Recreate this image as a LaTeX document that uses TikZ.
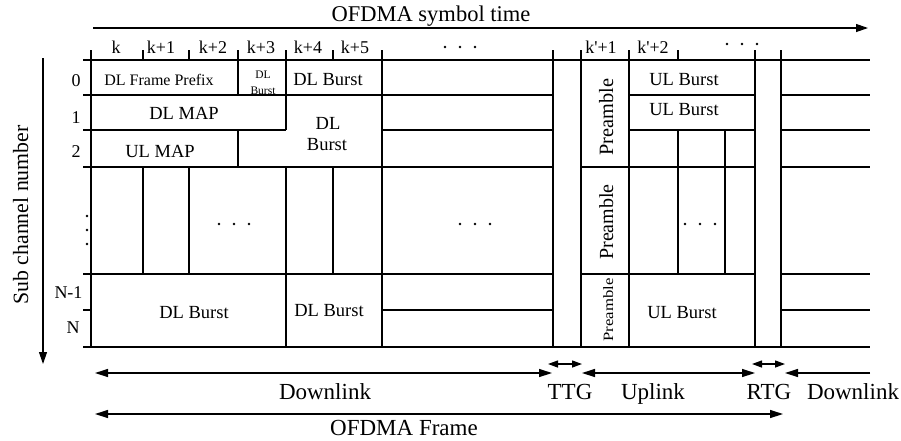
\documentclass[tikz,border=0pt]{standalone}
\usepackage{fontspec}
\setmainfont{Liberation Serif}
\newfontfamily\plainserif{Liberation Serif}[Ligatures=ResetAll]
\usepackage{graphicx}
\usetikzlibrary{arrows.meta}
\newcommand{\pr}{{\plainserif '}}
\begin{document}
\begin{tikzpicture}[x=1pt,y=-1pt,
  thinln/.style={line width=1.1pt},
  thickln/.style={line width=2.8pt},
  txt/.style={inner sep=0pt, anchor=base},
  hdr/.style={txt, font=\fontsize{18}{20}\selectfont},
  cell/.style={txt, font=\fontsize{18.5}{20}\selectfont},
  tiny/.style={txt, font=\fontsize{11.5}{12}\selectfont},
  big/.style={txt, font=\fontsize{23}{25}\selectfont},
  onehead/.style={line width=1.2pt, -{Triangle[length=12pt,width=8pt]}},
  twohead/.style={line width=1.3pt, {Triangle[length=13pt,width=8pt]}-{Triangle[length=13pt,width=8pt]}},
  gaphead/.style={line width=1.3pt, {Triangle[length=10pt,width=7pt]}-{Triangle[length=10pt,width=7pt]}},
  dot/.style={fill=black, draw=none}]
\useasboundingbox (0,0) rectangle (901,440);

% ---- axes ----
\coordinate (tA) at (93,28);  \coordinate (tB) at (868,28);
\draw[onehead] (tA) -- (tB);
\node[big, font=\fontsize{22.5}{24}\selectfont] (symtime) at (431,21) {OFDMA symbol time};

\coordinate (sA) at (43,58);  \coordinate (sB) at (43,364);
\draw[onehead] (sA) -- (sB);
\node[txt, rotate=90, font=\fontsize{21.8}{24}\selectfont] (subch) at (28,215) {Sub channel number};

% ---- symbol ticks ----
\foreach \x in {91,143,189,238,286,333,382,553,581,629,678,755,781}
  \draw[thinln] (\x,50) -- (\x,60);
% ---- sub-channel tick between N-1 and N ----
\draw[thinln] (83,310) -- (91,310);

% ---- column headers ----
\node[hdr] (k0) at (116,53) {k};
\node[hdr] (k1) at (161,53) {k+1};
\node[hdr] (k2) at (213,53) {k+2};
\node[hdr] (k3) at (261,53) {k+3};
\node[hdr] (k4) at (308,53) {k+4};
\node[hdr] (k5) at (355,53) {k+5};
\node[hdr] (kp1) at (601,53) {k\pr+1};
\node[hdr] (kp2) at (653,53) {k\pr+2};
\foreach \x in {445,460,475} \fill[dot] (\x,47) circle (1.4);
\foreach \x in {727,742,757} \fill[dot] (\x,44) circle (1.4);

% ---- row labels ----
\node[hdr] (r0) at (76,86) {0};
\node[hdr] (r1) at (76,123) {1};
\node[hdr] (r2) at (76,157) {2};
\node[hdr] (rN1) at (68.5,298) {N-1};
\node[hdr] (rN) at (73,333) {N};
\foreach \y in {216,230,244} \fill[dot] (87,\y) circle (1.4);

% ---- horizontal grid lines ----
\draw[thinln] (83,95) -- (553,95)   (629,95) -- (755,95)   (781,95) -- (870,95);
\draw[thinln] (83,130) -- (286,130) (382,130) -- (553,130) (629,130) -- (755,130) (781,130) -- (870,130);
\draw[thinln] (83,167) -- (553,167) (581,167) -- (755,167) (781,167) -- (870,167);
\draw[thinln] (83,274) -- (553,274) (581,274) -- (755,274) (781,274) -- (870,274);
\draw[thinln] (382,310) -- (553,310) (781,310) -- (870,310);

% ---- vertical grid lines ----
\draw[thinln] (143,167) -- (143,274)  (189,167) -- (189,274)  (333,167) -- (333,274);
\draw[thinln] (238,60) -- (238,95)    (238,130) -- (238,167);
\draw[thinln] (286,60) -- (286,130)   (286,167) -- (286,347);
\draw[thinln] (382,60) -- (382,347)   (629,60) -- (629,347);
\draw[thinln] (678,130) -- (678,274)  (725,130) -- (725,274);
\foreach \x in {91,553,581,755,781}
  \draw[thickln] (\x,60) -- (\x,347);

% ---- frame borders ----
\draw[thickln] (83,60) -- (870,60);
\draw[thickln] (83,347) -- (870,347);

% ---- downlink cells ----
\node[txt, font=\fontsize{16}{18}\selectfont] (fp) at (159,85) {DL Frame Prefix};
\node[tiny] (sb1) at (263,78) {DL};
\node[tiny] (sb2) at (263,94) {Burst};
\node[cell] (db0) at (328,85) {DL Burst};
\node[cell] (dlmap) at (184,119) {DL MAP};
\node[cell] (db1a) at (328,129) {DL};
\node[cell] (db1b) at (327,150) {Burst};
\node[cell] (ulmap) at (160,157) {UL MAP};
\node[cell] (db2) at (194,318) {DL Burst};
\node[cell] (db3) at (329,316) {DL Burst};
\foreach \x in {219,234,249} \fill[dot] (\x,224) circle (1.4);
\foreach \x in {460,475,490} \fill[dot] (\x,224) circle (1.4);

% ---- uplink cells ----
\node[txt, rotate=90, font=\fontsize{20.3}{22}\selectfont] (pre1) at (613,117) {Preamble};
\node[txt, rotate=90, font=\fontsize{20}{22}\selectfont] (pre2) at (613,222) {Preamble};
\node[txt, rotate=90, font=\fontsize{19}{22}\selectfont] (pre3) at (613,310) {\scalebox{0.88}[0.75]{Preamble}};
\node[cell] (ub0) at (684,85) {UL Burst};
\node[cell] (ub1) at (684,115) {UL Burst};
\node[cell] (ub2) at (682,318) {UL Burst};
\foreach \x in {685,700,715} \fill[dot] (\x,224) circle (1.4);

% ---- frame spans ----
\coordinate (dlA) at (95,373);  \coordinate (dlB) at (552,373);
\coordinate (ttA) at (548,364); \coordinate (ttB) at (582,364);
\coordinate (ulA) at (582,373); \coordinate (ulB) at (755,373);
\coordinate (rtA) at (752,364); \coordinate (rtB) at (785,364);
\coordinate (d2A) at (870,373); \coordinate (d2B) at (785,373);
\coordinate (frA) at (95,414);  \coordinate (frB) at (783,414);
\draw[twohead] (dlA) -- (dlB);
\draw[gaphead] (ttA) -- (ttB);
\draw[twohead] (ulA) -- (ulB);
\draw[gaphead] (rtA) -- (rtB);
\draw[line width=1.3pt, -{Triangle[length=13pt,width=8pt]}] (d2A) -- (d2B);
\draw[twohead] (frA) -- (frB);

\node[big] (ldl) at (325,399) {Downlink};
\node[big] (lttg) at (570,399) {TTG};
\node[big] (lul) at (653,399) {Uplink};
\node[big] (lrtg) at (769,399) {RTG};
\node[big] (ldl2) at (853,399) {Downlink};
\node[big] (lfr) at (404,435) {OFDMA Frame};
\end{tikzpicture}
\end{document}
